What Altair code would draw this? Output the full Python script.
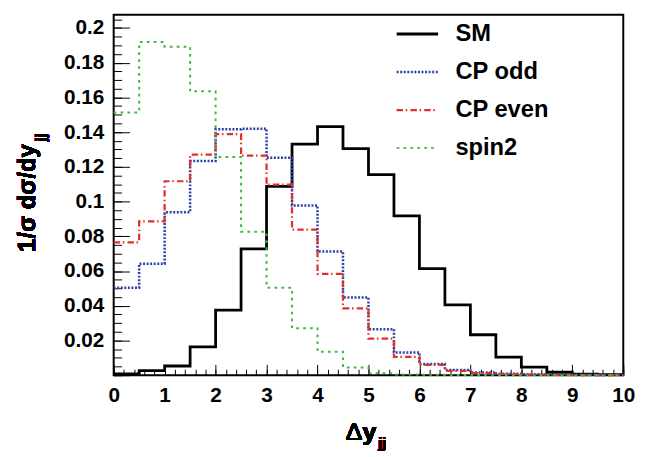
import altair as alt
import pandas as pd

# bin edges of the dy_jj histograms (width 0.5)
edges = [0.0, 0.5, 1.0, 1.5, 2.0, 2.5, 3.0, 3.5, 4.0, 4.5, 5.0,
         5.5, 6.0, 6.5, 7.0, 7.5, 8.0, 8.5, 9.0, 9.5, 10.0]

# normalised bin contents
sm = [0.0008, 0.0026, 0.0053, 0.0163, 0.0375, 0.0727, 0.1087, 0.1331, 0.1432, 0.1305,
      0.1155, 0.0917, 0.0614, 0.0405, 0.0233, 0.0104, 0.0047, 0.0017, 0.0006, 0.0003]
cp_odd = [0.0504, 0.0642, 0.0939, 0.1233, 0.1417, 0.1420, 0.1252, 0.0977, 0.0712, 0.0447,
          0.0265, 0.0131, 0.0064, 0.0030, 0.0015, 0.0008, 0.0005, 0.0003, 0.0002, 0.0001]
cp_even = [0.0765, 0.0886, 0.1117, 0.1271, 0.1388, 0.1265, 0.1097, 0.0839, 0.0583, 0.0385,
           0.0210, 0.0106, 0.0059, 0.0025, 0.0012, 0.0006, 0.0004, 0.0002, 0.0001, 0.0001]
spin2 = [0.1513, 0.1919, 0.1892, 0.1635, 0.1257, 0.0826, 0.0504, 0.0271, 0.0135, 0.0045,
         0.0012, 0.0004, 0.0002, 0.0001, 0.0, 0.0, 0.0, 0.0, 0.0, 0.0]

series = ["SM", "CP odd", "CP even", "spin2"]
colors = ["black", "#2b3fa8", "#e0302a", "#3cb93c"]
dashes = [[1, 0], [2, 1.6], [6.5, 2.7, 1.5, 3.3], [2.7, 4.3]]
widths = [2.8, 2, 2.5, 3]

x_labels = [0, 1, 2, 3, 4, 5, 6, 7, 8, 9, 10]
y_labels = [0.02, 0.04, 0.06, 0.08, 0.1, 0.12, 0.14, 0.16, 0.18, 0.2]
y_major = [0.0] + y_labels
x_minor = [i / 5 for i in range(51)]
y_minor = [i * 0.005 for i in range(42)]

rows = []
for name, vals in zip(series, [sm, cp_odd, cp_even, spin2]):
    for x, v in zip(edges, vals + vals[-1:]):
        rows.append({"dy": x, "val": v, "series": name})
df = pd.DataFrame(rows)

W, H = 516, 365
FONT = "Liberation Sans"

xs = alt.Scale(domain=[0, 10], nice=False, zero=False)
ys = alt.Scale(domain=[0, 0.2076], nice=False)

leg = alt.Legend(orient="none", legendX=285, legendY=-3, title=None,
                 symbolType="stroke", symbolSize=1764, padding=0,
                 labelFont=FONT, labelFontSize=24, labelFontWeight="bold",
                 labelColor="black", labelOffset=16, rowPadding=3.6)

lines = alt.Chart(df).mark_line(interpolate="step-after", strokeCap="butt").encode(
    x=alt.X("dy:Q", scale=xs, axis=alt.Axis(
        orient="bottom", values=x_labels, format="d", ticks=False, domain=False,
        grid=False, title=None, labelFont=FONT, labelFontSize=21,
        labelFontWeight="bold", labelColor="black", labelPadding=10, labelFlush=False)),
    y=alt.Y("val:Q", scale=ys, axis=alt.Axis(
        orient="left", values=y_labels, format="~g", ticks=False, domain=False,
        grid=False, title=None, labelFont=FONT, labelFontSize=21,
        labelFontWeight="bold", labelColor="black", labelPadding=10)),
    color=alt.Color("series:N", scale=alt.Scale(domain=series, range=colors), legend=leg),
    strokeDash=alt.StrokeDash("series:N", scale=alt.Scale(domain=series, range=dashes), legend=leg),
    strokeWidth=alt.StrokeWidth("series:N", scale=alt.Scale(domain=series, range=widths), legend=leg),
)

# inward ticks (major and minor), like the ROOT frame
def tick_layer(xv, xsize, yv, ysize):
    return alt.Chart(df).mark_point(opacity=0).encode(
        x=alt.X("dy:Q", scale=xs, axis=alt.Axis(
            orient="top", offset=-H, values=xv, labels=False, tickSize=xsize,
            tickColor="black", tickWidth=1, domain=False, grid=False, title=None)),
        y=alt.Y("val:Q", scale=ys, axis=alt.Axis(
            orient="right", offset=-W, values=yv, labels=False, tickSize=ysize,
            tickColor="black", tickWidth=1, domain=False, grid=False, title=None)),
    )

major = tick_layer(x_labels, 11, y_major, 16)
minor = tick_layer(x_minor, 6, y_minor, 8)

# axis titles with subscripts
def label(txt, x, y, size, weight="bold", angle=0, align="left", baseline="alphabetic"):
    return alt.Chart(df).mark_text(
        text=txt, font=FONT, fontSize=size, fontWeight=weight, angle=angle,
        align=align, baseline=baseline, color="black"
    ).encode(x=alt.value(x), y=alt.value(y))

x_t1 = label("\u0394", 235, 431, 25, weight="normal")
x_t2 = label("y", 252, 431, 25)
x_t3 = label("jj", 268, 439, 14)
y_t1 = label("1/\u03c3 d\u03c3/dy", -87, 240, 24, angle=270, baseline="middle")
y_t2 = label("jj", -73, 128, 14, angle=270, baseline="middle")

chart = alt.layer(lines, major, minor, x_t1, x_t2, x_t3, y_t1, y_t2).resolve_axis(
    x="independent", y="independent"
).properties(
    width=W, height=H,
    padding={"left": 107, "top": 4, "right": 22, "bottom": 80},
    autosize=alt.AutoSizeParams(type="none"),
).configure_view(stroke="black", strokeWidth=2)

chart.save("out.html", embed_options={"renderer": "svg", "actions": False})
